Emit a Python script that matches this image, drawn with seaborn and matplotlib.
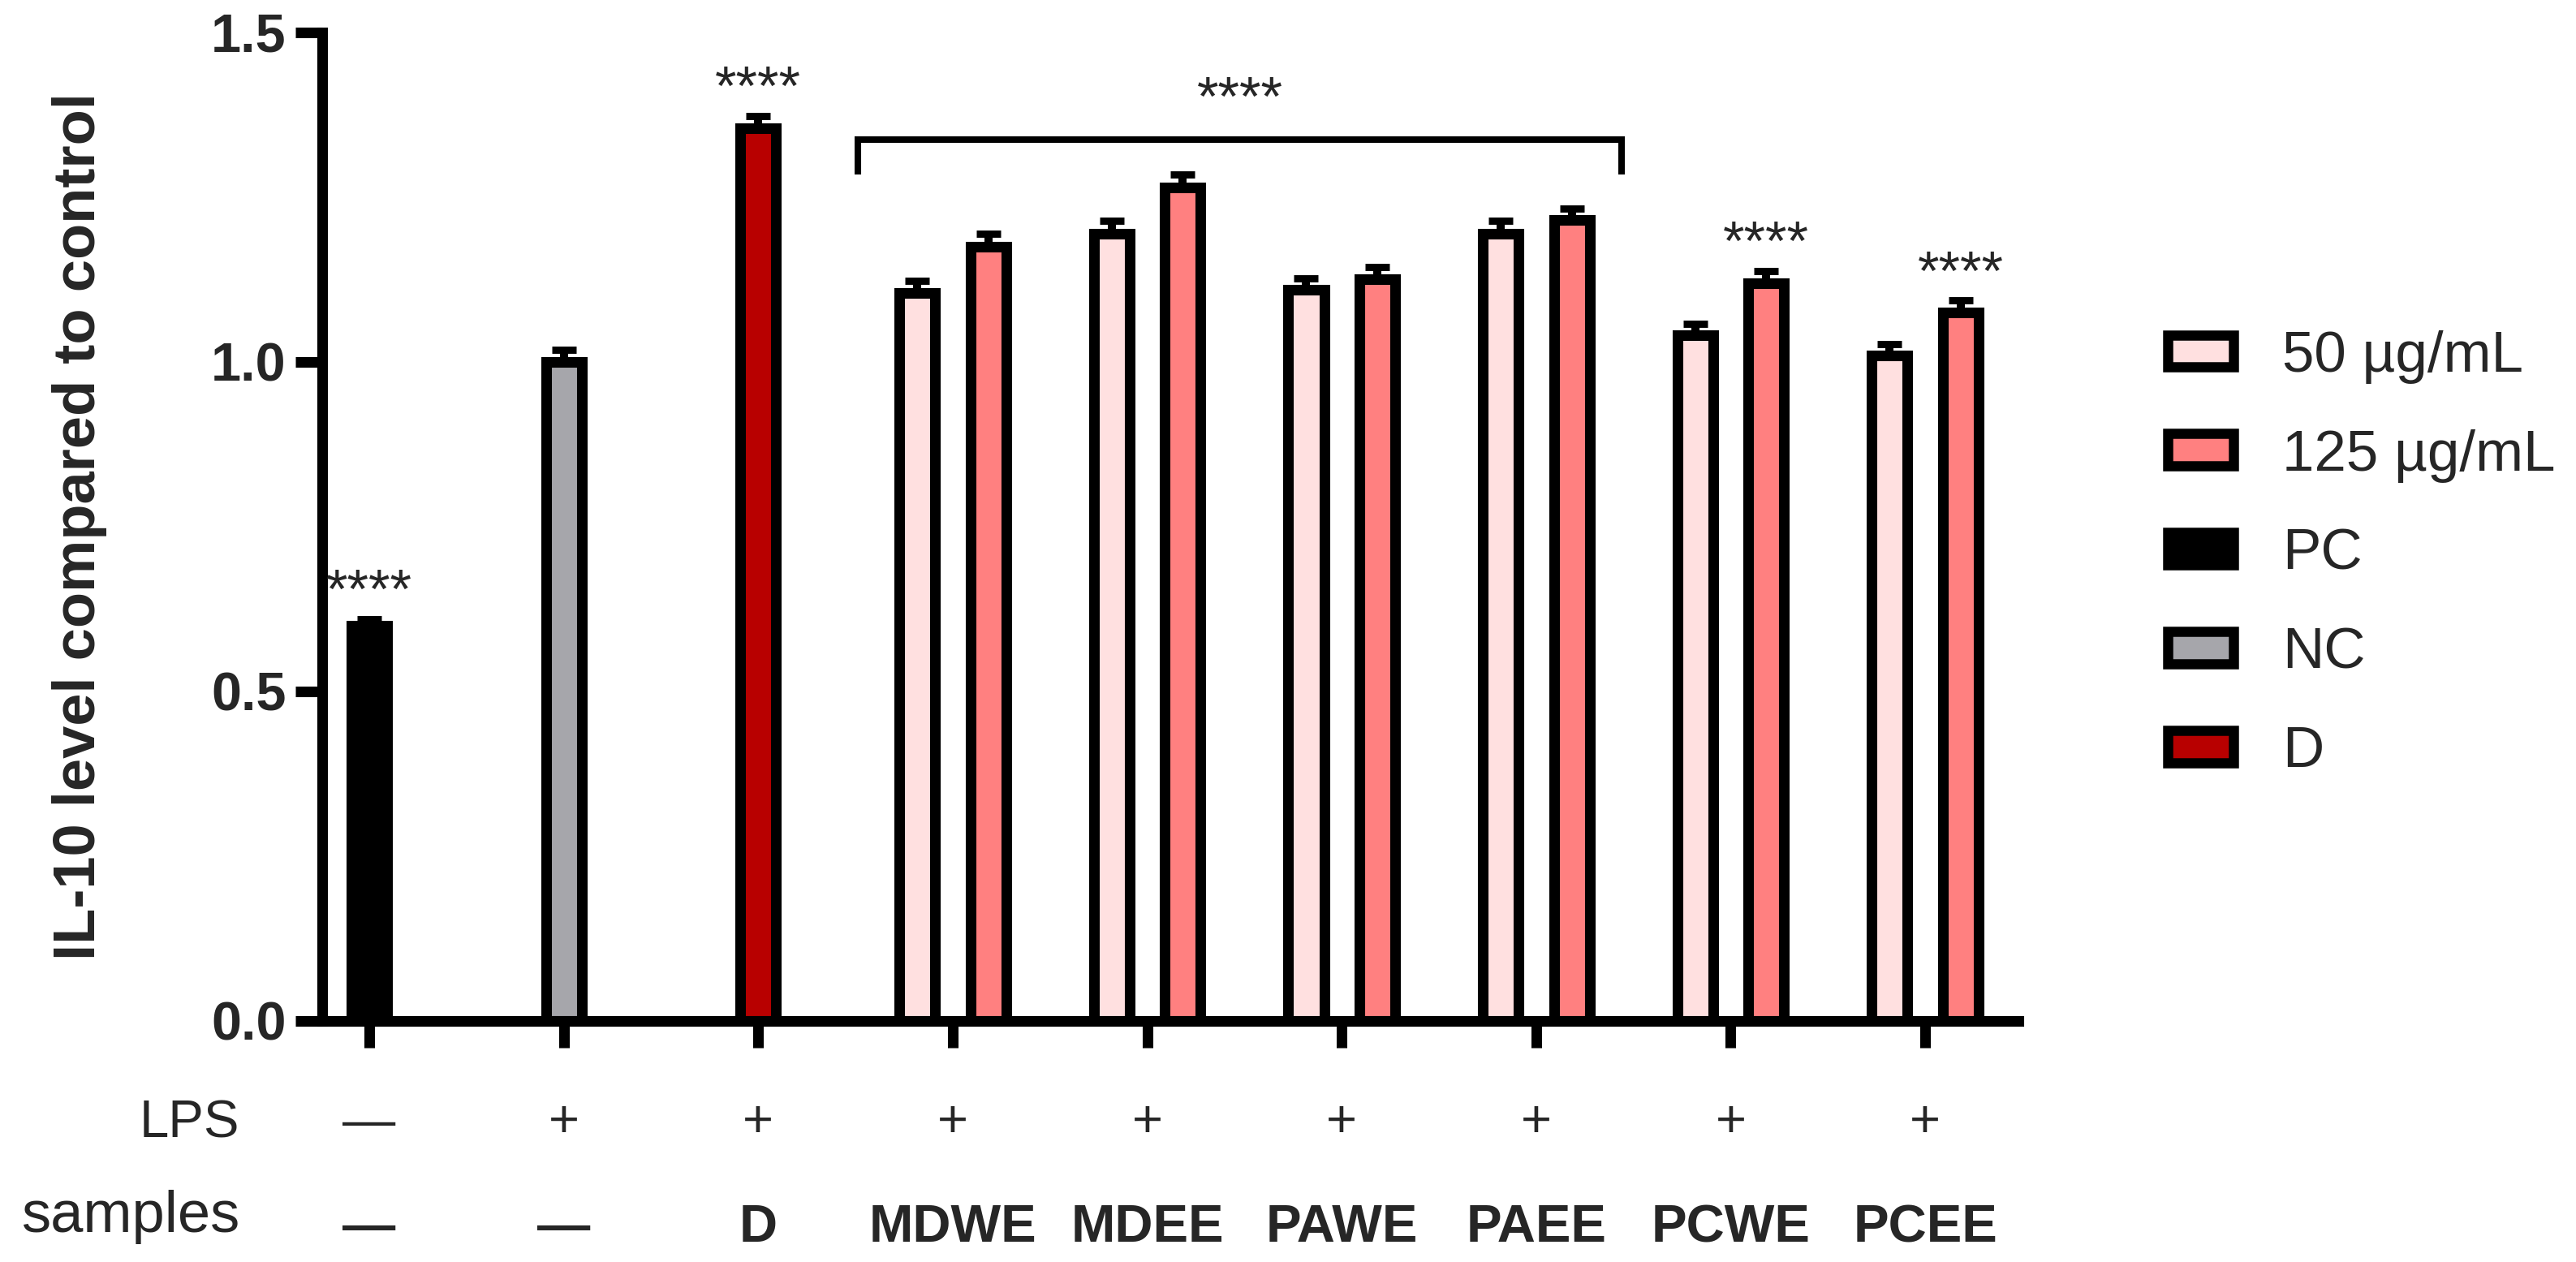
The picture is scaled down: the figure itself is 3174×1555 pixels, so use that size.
import pandas as pd
import matplotlib.pyplot as plt
import matplotlib.transforms as mtransforms
from matplotlib.patches import Patch
import seaborn as sns

# x axis categories and the two text rows under the axis
categories = ['PC', 'NC', 'D', 'MDWE', 'MDEE', 'PAWE', 'PAEE', 'PCWE', 'PCEE']
lps_row = ['—', '+', '+', '+', '+', '+', '+', '+', '+']
sample_row = ['—', '—', 'D', 'MDWE', 'MDEE', 'PAWE', 'PAEE', 'PCWE', 'PCEE']

# controls (single bars)
ctrl_names = ['PC', 'NC', 'D']
ctrl_values = [0.60, 1.00, 1.355]
ctrl_err = [0.010, 0.018, 0.018]
ctrl_colors = ['#000000', '#A6A6AB', '#B80000']

# extracts, two doses
extracts = ['MDWE', 'MDEE', 'PAWE', 'PAEE', 'PCWE', 'PCEE']
doses = ['50 µg/mL', '125 µg/mL']
vals_50 = [1.105, 1.195, 1.11, 1.195, 1.04, 1.01]
vals_125 = [1.175, 1.265, 1.125, 1.215, 1.12, 1.075]
err_50 = [0.018, 0.019, 0.017, 0.019, 0.018, 0.017]
err_125 = [0.019, 0.019, 0.019, 0.018, 0.018, 0.018]
dose_colors = ['#FFE0E0', '#FF8080']

ctrl_df = pd.DataFrame({'sample': ctrl_names, 'value': ctrl_values})
ext_df = pd.DataFrame({
    'sample': extracts + extracts,
    'dose': [doses[0]] * len(extracts) + [doses[1]] * len(extracts),
    'value': vals_50 + vals_125,
})

sns.set_style("ticks")
plt.rcParams['font.family'] = ['Liberation Sans', 'DejaVu Sans']

fig = plt.figure(figsize=(15.87, 7.775), dpi=200)
ax = fig.add_axes([0.1251, 0.191, 0.7836 - 0.1251, 0.9743 - 0.191])

lw = 4.7
sns.barplot(data=ctrl_df, x='sample', y='value', hue='sample', order=categories,
            hue_order=ctrl_names, palette=ctrl_colors, dodge=False, width=0.184,
            saturation=1, edgecolor='black', linewidth=lw, errorbar=None,
            legend=False, ax=ax)
sns.barplot(data=ext_df, x='sample', y='value', hue='dose', order=categories,
            hue_order=doses, palette=dose_colors, dodge=True, width=0.73, gap=0.495,
            saturation=1, edgecolor='black', linewidth=lw, errorbar=None,
            legend=False, ax=ax)

# error bars (upper only) on every bar
tops = {}
for bar in list(ax.patches):
    xc = bar.get_x() + bar.get_width() / 2
    i = int(round(xc))
    name = categories[i]
    if name in ctrl_names:
        e = ctrl_err[ctrl_names.index(name)]
        key = (name, 0)
    else:
        j = extracts.index(name)
        side = 0 if xc < i else 1
        e = err_50[j] if side == 0 else err_125[j]
        key = (name, side)
    h = bar.get_height()
    ax.errorbar(xc, h, yerr=[[0], [e]], fmt='none', ecolor='black',
                elinewidth=3.6, capsize=5.4, capthick=3.2, zorder=5)
    tops[key] = (xc, h + e)

# significance marks
star_kw = dict(ha='center', va='baseline', fontsize=24.5, clip_on=False)
for key in [('PC', 0), ('D', 0), ('PCWE', 1), ('PCEE', 1)]:
    xc, top = tops[key]
    ax.text(xc, top + 0.017, '****', **star_kw)

x0 = categories.index('MDWE') - 0.49
x1 = categories.index('PAEE') + 0.44
ax.plot([x0, x0, x1, x1], [1.285, 1.337, 1.337, 1.285], color='black', lw=2.9,
        clip_on=False, solid_capstyle='butt', solid_joinstyle='miter')
ax.text((x0 + x1) / 2, 1.375, '****', **star_kw)

# axes styling
ax.set_xlim(-0.242, 8.48)
ax.set_ylim(0, 1.5)
ax.set_yticks([0, 0.5, 1.0, 1.5])
ax.set_yticklabels(['0.0', '0.5', '1.0', '1.5'], fontsize=24, fontweight='bold')
ax.set_xticks(range(len(categories)))
ax.set_xticklabels([])
ax.set_xlabel('')
ax.set_ylabel('')
ax.tick_params(axis='both', length=12, width=lw, direction='out', color='black',
               pad=4, bottom=True, left=True)
sns.despine(ax=ax)
for s in ['left', 'bottom']:
    ax.spines[s].set_linewidth(lw)
    ax.spines[s].set_color('black')

fig.text(0.031, 0.583, 'IL-10 level compared to control', rotation=90,
         ha='center', va='center', fontsize=26, fontweight='bold')

# LPS / samples rows
trans = mtransforms.blended_transform_factory(ax.transData, fig.transFigure)
for i, (lps, smp) in enumerate(zip(lps_row, sample_row)):
    ax.text(i, 0.099, lps, transform=trans, ha='center', va='baseline', fontsize=23.5)
    ax.text(i, 0.016, smp, transform=trans, ha='center', va='baseline',
            fontsize=23.5, fontweight='bold')
fig.text(0.093, 0.099, 'LPS', ha='right', va='baseline', fontsize=23.5)
fig.text(0.093, 0.0238, 'samples', ha='right', va='baseline', fontsize=26)

# legend
leg_labels = doses + ctrl_names
leg_colors = dose_colors + ctrl_colors
handles = [Patch(facecolor=c, edgecolor='black', linewidth=4.5) for c in leg_colors]
ax.legend(handles=handles, labels=leg_labels, loc='upper left',
          bbox_to_anchor=(0.8415, 0.7385), bbox_transform=fig.transFigure,
          frameon=False, fontsize=25.5, handlelength=1.14, handleheight=0.49,
          handletextpad=0.85, labelspacing=0.79, borderpad=0, borderaxespad=0)

fig.savefig('out.png', dpi=200)
